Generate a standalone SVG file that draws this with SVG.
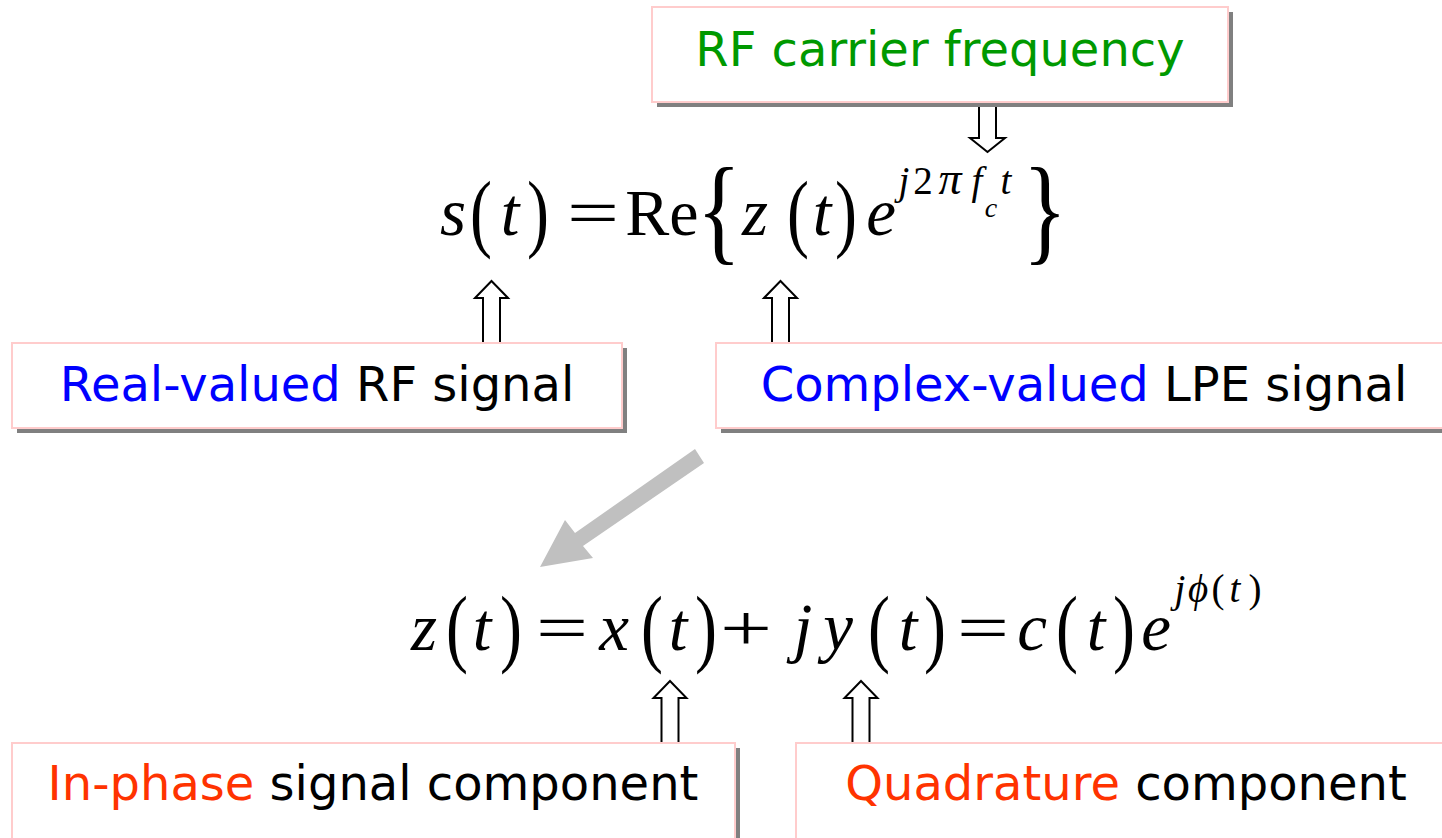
<svg xmlns="http://www.w3.org/2000/svg" width="1442" height="838" viewBox="0 0 1442 838">
<defs>
<style>
.box{fill:#fff;stroke:#FFCCCC;stroke-width:2}
.shadow{fill:#808080}
.lbl{font-family:"DejaVu Sans","Liberation Sans",sans-serif;font-size:48px;text-anchor:middle}
.m{font-family:"Liberation Serif","Times New Roman",serif;font-size:67px;font-style:italic;text-anchor:middle;fill:#000}
.mu{font-family:"Liberation Serif","Times New Roman",serif;font-size:66px;text-anchor:middle;fill:#000}
.s{font-family:"Liberation Serif","Times New Roman",serif;font-size:39px;font-style:italic;text-anchor:middle;fill:#000}
.su{font-family:"Liberation Serif","Times New Roman",serif;font-size:39px;text-anchor:middle;fill:#000}
.hol{fill:#fff;stroke:#000;stroke-width:2;stroke-linejoin:miter}
.green{fill:#009900}.blue{fill:#0000FF}.red{fill:#FF3300}.blk{fill:#000}
</style>
</defs>
<rect width="1442" height="838" fill="#fff"/>

<g id="connectors">
<polygon class="hol" points="979,103 996,103 996,138 1005,138 987.5,152 970,138 979,138"/>
<polygon class="hol" points="491.5,281 508,298 500,298 500,343 483,343 483,298 475,298"/>
<polygon class="hol" points="780.5,281 797,298 789,298 789,343 772,343 772,298 764,298"/>
<polygon class="hol" points="670,681 686.5,698 678.5,698 678.5,743 661.5,743 661.5,698 653.5,698"/>
<polygon class="hol" points="861,681 877.5,698 869.5,698 869.5,743 852.5,743 852.5,698 844.5,698"/>
<polygon fill="#C0C0C0" points="695,449 575,533 565,520 540,567 593,558 583,546 704,463"/>
</g>

<g id="node-rf-carrier">
<rect class="shadow" x="657" y="12" width="576" height="95"/>
<rect class="box" x="652" y="7" width="576" height="95"/>
<text class="lbl green" x="940" y="66">RF carrier frequency</text>
</g>

<g id="node-real-valued">
<rect class="shadow" x="17" y="348" width="610" height="85"/>
<rect class="box" x="12" y="343" width="610" height="85"/>
<text class="lbl" x="317" y="401"><tspan class="blue">Real-valued</tspan><tspan class="blk"> RF signal</tspan></text>
</g>

<g id="node-complex-valued">
<rect class="shadow" x="721" y="348" width="740" height="85"/>
<rect class="box" x="716" y="343" width="740" height="85"/>
<text class="lbl" x="1084" y="401"><tspan class="blue">Complex-valued</tspan><tspan class="blk"> LPE signal</tspan></text>
</g>

<g id="node-in-phase">
<rect class="shadow" x="17" y="748" width="723" height="110"/>
<rect class="box" x="12" y="743" width="723" height="110"/>
<text class="lbl" x="373" y="800"><tspan class="red">In-phase</tspan><tspan class="blk"> signal component</tspan></text>
</g>

<g id="node-quadrature">
<rect class="box" x="796" y="743" width="670" height="110"/>
<text class="lbl" x="1126" y="800"><tspan class="red">Quadrature</tspan><tspan class="blk"> component</tspan></text>
</g>

<g id="eq1">
<text class="m" x="453" y="235">s</text>
<text class="mu" transform="matrix(1,0,0,1.33,481,241)">(</text>
<text class="m" x="510" y="235">t</text>
<text class="mu" transform="matrix(1,0,0,1.33,538,241)">)</text>
<text class="mu" transform="matrix(1.4,0,0,1,593,235)">=</text>
<text class="mu" x="662" y="235">Re</text>
<text class="mu" transform="matrix(1.4,0,0,1.81,719,249)">{</text>
<text class="m" x="755" y="235">z</text>
<text class="mu" transform="matrix(1,0,0,1.33,798,241)">(</text>
<text class="m" x="822" y="235">t</text>
<text class="mu" transform="matrix(1,0,0,1.33,846,241)">)</text>
<text class="m" x="881" y="235">e</text>
<text class="s" x="904" y="194">j</text>
<text class="su" x="923" y="194">2</text>
<text class="s" x="950" y="194" style="font-size:46px">π</text>
<text class="s" x="977" y="194">f</text>
<text class="s" x="991" y="217" style="font-size:28px">c</text>
<text class="s" x="1006" y="194">t</text>
<text class="mu" transform="matrix(1.4,0,0,1.81,1045,249)">}</text>
</g>

<g id="eq2">
<text class="m" x="424" y="650">z</text>
<text class="mu" transform="matrix(1,0,0,1.33,457,656)">(</text>
<text class="m" x="482" y="650">t</text>
<text class="mu" transform="matrix(1,0,0,1.33,511,656)">)</text>
<text class="mu" transform="matrix(1.4,0,0,1,562,650)">=</text>
<text class="m" x="614" y="650">x</text>
<text class="mu" transform="matrix(1,0,0,1.33,652,656)">(</text>
<text class="m" x="678" y="650">t</text>
<text class="mu" transform="matrix(1,0,0,1.33,706,656)">)</text>
<text class="mu" transform="matrix(1.4,0,0,1,746,650)">+</text>
<text class="m" x="803" y="650">j</text>
<text class="m" x="838" y="650">y</text>
<text class="mu" transform="matrix(1,0,0,1.33,879,656)">(</text>
<text class="m" x="908" y="650">t</text>
<text class="mu" transform="matrix(1,0,0,1.33,935,656)">)</text>
<text class="mu" transform="matrix(1.4,0,0,1,983,650)">=</text>
<text class="m" x="1032" y="650">c</text>
<text class="mu" transform="matrix(1,0,0,1.33,1067,656)">(</text>
<text class="m" x="1096" y="650">t</text>
<text class="mu" transform="matrix(1,0,0,1.33,1124,656)">)</text>
<text class="m" x="1156" y="650">e</text>
<text class="s" x="1180" y="602">j</text>
<text class="s" x="1198" y="602">ϕ</text>
<text class="su" x="1218" y="602">(</text>
<text class="s" x="1235" y="602">t</text>
<text class="su" x="1255" y="602">)</text>
</g>
</svg>
